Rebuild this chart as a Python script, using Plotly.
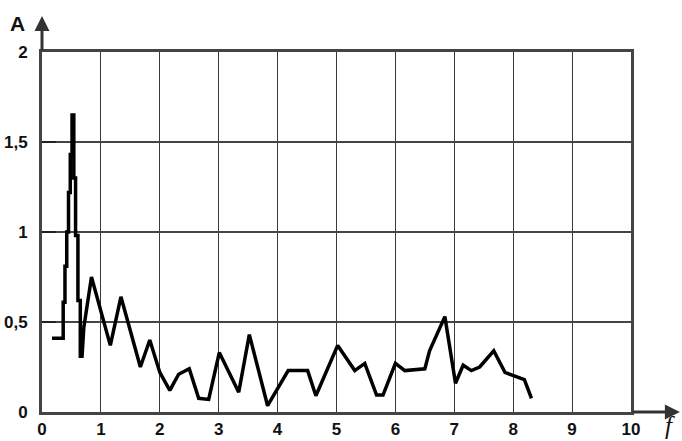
import plotly.graph_objects as go

# Data
freq = [0.17, 0.36, 0.36, 0.39, 0.39, 0.42, 0.42, 0.45, 0.45, 0.48, 0.48, 0.51,
        0.51, 0.54, 0.54, 0.57, 0.57, 0.61, 0.61, 0.65, 0.65, 0.68, 0.71, 0.84,
        1.16, 1.34, 1.67, 1.83, 2.0, 2.17, 2.32, 2.5, 2.66, 2.83, 3.01, 3.34,
        3.52, 3.83, 4.18, 4.51, 4.65, 5.02, 5.31, 5.48, 5.68, 5.79, 6.0, 6.16,
        6.5, 6.58, 6.84, 7.02, 7.15, 7.29, 7.43, 7.67, 7.86, 8.11, 8.19, 8.31]
amp = [0.41, 0.41, 0.61, 0.61, 0.81, 0.81, 1.0, 1.0, 1.22, 1.22, 1.43, 1.43,
       1.65, 1.65, 1.30, 1.30, 0.98, 0.98, 0.62, 0.62, 0.31, 0.31, 0.47, 0.75,
       0.37, 0.64, 0.25, 0.40, 0.22, 0.12, 0.21, 0.24, 0.076, 0.07, 0.33, 0.11,
       0.43, 0.035, 0.23, 0.23, 0.09, 0.37, 0.23, 0.27, 0.094, 0.094, 0.27, 0.23,
       0.24, 0.34, 0.53, 0.16, 0.26, 0.23, 0.25, 0.34, 0.22, 0.19, 0.18, 0.076]

x_tickvals = [0, 1, 2, 3, 4, 5, 6, 7, 8, 9, 10]
x_ticktext = ["0", "1", "2", "3", "4", "5", "6", "7", "8", "9", "10"]
y_tickvals = [0, 0.5, 1, 1.5, 2]
y_ticktext = ["0", "0,5", "1", "1,5", "2"]

tick_font = dict(family="Liberation Sans, Arial, sans-serif", size=17, color="#111", weight="bold")

fig = go.Figure()
fig.add_trace(go.Scatter(x=freq, y=amp, mode="lines",
                         line=dict(color="black", width=3.5, shape="linear"),
                         showlegend=False, hoverinfo="skip"))

fig.update_layout(
    width=682, height=441,
    margin=dict(l=42, r=51, t=52, b=29, autoexpand=False),
    paper_bgcolor="white", plot_bgcolor="white",
    xaxis=dict(range=[0, 10], tickvals=x_tickvals, ticktext=x_ticktext,
               showgrid=True, gridcolor="#3a3a3a", gridwidth=1,
               showline=True, linecolor="#444", linewidth=3, mirror=True,
               ticks="", tickfont=tick_font, ticklabelstandoff=0,
               zeroline=False, fixedrange=True, automargin=False),
    yaxis=dict(range=[0, 2], tickvals=y_tickvals, ticktext=y_ticktext,
               showgrid=True, gridcolor="#444", gridwidth=1.5,
               showline=True, linecolor="#444", linewidth=3, mirror=True,
               ticks="inside", ticklen=14, tickwidth=1.5, tickcolor="#222",
               tickfont=tick_font, ticklabelstandoff=8,
               zeroline=False, fixedrange=True, automargin=False),
)

# axis arrows
fig.add_annotation(x=10.83, y=0, xref="x", yref="y", ax=10, ay=0, axref="x", ayref="y",
                   text="", showarrow=True, arrowhead=2, arrowsize=1, arrowwidth=3,
                   arrowcolor="#333")
fig.add_annotation(x=0, y=2.2, xref="x", yref="y", ax=0, ay=2, axref="x", ayref="y",
                   text="", showarrow=True, arrowhead=2, arrowsize=1, arrowwidth=3,
                   arrowcolor="#333")

# axis titles
fig.add_annotation(text="A", xref="paper", yref="paper", x=-0.041, y=1.08,
                   showarrow=False, xanchor="center", yanchor="middle",
                   font=dict(family="Liberation Sans, Arial, sans-serif", size=21,
                             color="#111", weight="bold"))
fig.add_annotation(text="<i>f</i>", xref="paper", yref="paper", x=1.066, y=-0.038,
                   showarrow=False, xanchor="center", yanchor="middle",
                   font=dict(family="Liberation Serif, serif", size=25, color="#111"))

# remove the default 8px page margin so the figure fills the window exactly
fig.write_html("out.html", config={"displayModeBar": False},
               post_script="document.body.style.margin='0';")
